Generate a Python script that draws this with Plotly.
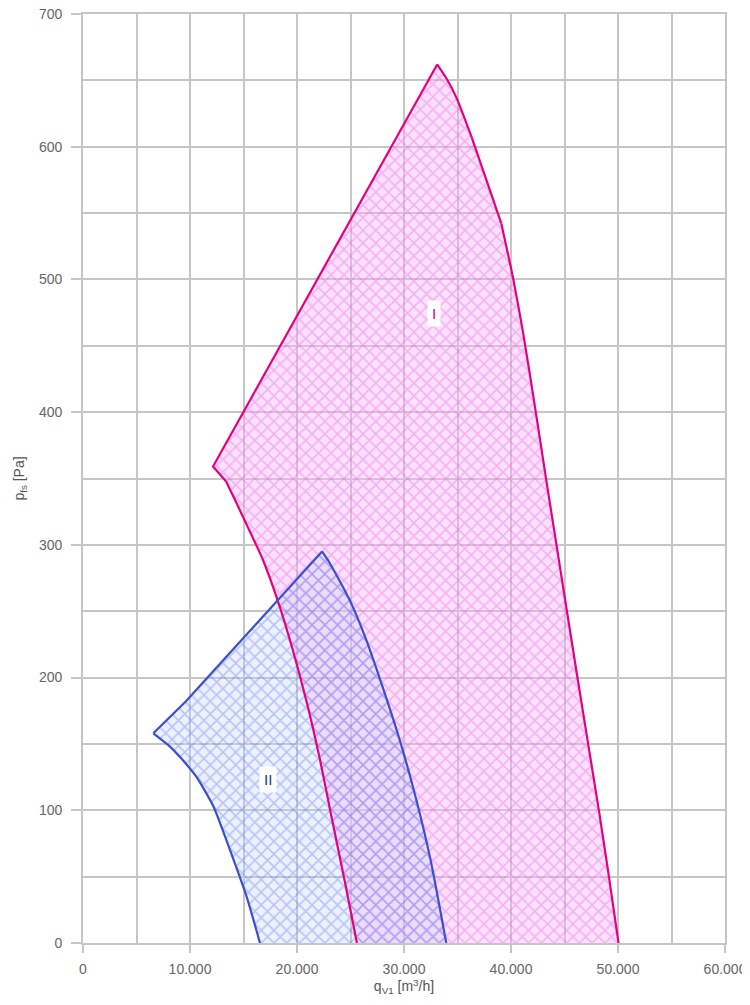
import plotly.graph_objects as go

# Region I (magenta) outline, q_V1 [m3/h] and p_fs [Pa]
q_I = [33100, 34000, 34900, 36330, 39100, 40220, 41150, 42240, 43350, 44250,
       45050, 46250, 47250, 48250, 49150, 50050, 25600, 24500, 23150, 22150,
       20950, 19600, 18200, 16800, 15250, 14200, 13360, 12150, 33100]
p_I = [662, 651, 637, 607, 542, 500, 459, 404, 346, 300,
       259, 198, 148, 98, 50, 0, 0, 45, 98, 138,
       180, 221, 258, 289, 316, 334, 348, 359, 662]

# Region II (blue) outline
q_II = [22340, 23080, 24950, 26350, 28000, 29600, 31150, 32500, 33950, 16540,
        15290, 13740, 12180, 10620, 9300, 8130, 6570, 9300, 9600, 22340]
p_II = [295, 286, 258, 231, 193, 153, 108, 62, 0, 0,
        35, 70, 103, 125, 138, 148, 158, 180, 182, 295]

x_tickvals = [0, 10000, 20000, 30000, 40000, 50000, 60000]
x_ticktext = ["0", "10.000", "20.000", "30.000", "40.000", "50.000", "60.000"]
y_tickvals = [0, 100, 200, 300, 400, 500, 600, 700]

label_I = ("I", 32800, 474)
label_II = ("II", 17300, 123)

RED = "#e5007d"
BLUE = "#3a4fd2"

fig = go.Figure()

fig.add_trace(go.Scatter(
    x=q_I, y=p_I, mode="lines", fill="toself",
    line=dict(width=0, color="rgba(0,0,0,0)"),
    fillcolor="rgba(250,170,245,0.35)",
    fillpattern=dict(shape="x", fgcolor="rgba(225,85,225,0.68)",
                     bgcolor="rgba(250,180,248,0.4)", size=9, solidity=0.32),
    hoverinfo="skip", showlegend=False))

fig.add_trace(go.Scatter(
    x=q_II, y=p_II, mode="lines", fill="toself",
    line=dict(width=0, color="rgba(0,0,0,0)"),
    fillcolor="rgba(170,195,255,0.3)",
    fillpattern=dict(shape="x", fgcolor="rgba(70,95,225,0.62)",
                     bgcolor="rgba(190,210,255,0.3)", size=9, solidity=0.32),
    hoverinfo="skip", showlegend=False))


def outline(xs, ys, color, shape):
    fig.add_trace(go.Scatter(x=xs, y=ys, mode="lines",
                             line=dict(color=color, width=2.2, shape=shape, smoothing=0.6),
                             hoverinfo="skip", showlegend=False))


# Region I outline (no edge along p = 0)
outline(q_I[0:4], p_I[0:4], RED, "spline")
outline(q_I[3:5], p_I[3:5], RED, "linear")
outline(q_I[4:16], p_I[4:16], RED, "spline")
outline(q_I[16:27], p_I[16:27], RED, "spline")
outline(q_I[26:29], p_I[26:29], RED, "linear")

# Region II outline
outline(q_II[0:9], p_II[0:9], BLUE, "spline")
outline(q_II[9:17], p_II[9:17], BLUE, "spline")
outline(q_II[16:20], p_II[16:20], BLUE, "linear")

for (txt, xx, yy), col in [(label_I, RED), (label_II, "#1a3a8c")]:
    fig.add_annotation(x=xx, y=yy, text=txt, showarrow=False,
                       bgcolor="white", borderpad=4,
                       font=dict(family="Liberation Sans, Arial", size=15, color=col))

grid = "#c6c6c6"
fig.update_layout(
    width=750, height=1005,
    margin=dict(l=75, r=33, t=6, b=70),
    paper_bgcolor="white", plot_bgcolor="white",
    font=dict(family="Liberation Sans, Arial", size=14, color="#666"),
    xaxis=dict(range=[0, 60000], tickvals=x_tickvals, ticktext=x_ticktext,
               automargin=False, ticklabeloverflow="allow",
               showgrid=True, gridcolor=grid, gridwidth=1.6,
               minor=dict(dtick=5000, tick0=0, showgrid=True, gridcolor=grid, gridwidth=1.6),
               ticks="outside", ticklen=8, tickcolor=grid, tickwidth=1.6,
               ticklabelstandoff=4,
               showline=True, linecolor=grid, linewidth=1.6, mirror=True,
               zeroline=False, tickfont=dict(size=14, color="#666"),
               title=dict(text="q<sub>V1</sub> [m<sup>3</sup>/h]", standoff=6,
                          font=dict(size=14, color="#555"))),
    yaxis=dict(range=[0, 700], tickvals=y_tickvals,
               automargin=False, ticklabeloverflow="allow",
               showgrid=True, gridcolor=grid, gridwidth=1.6,
               minor=dict(dtick=50, tick0=0, showgrid=True, gridcolor=grid, gridwidth=1.6),
               ticks="outside", ticklen=10, tickcolor=grid, tickwidth=1.6,
               ticklabelstandoff=6,
               showline=True, linecolor=grid, linewidth=1.6, mirror=True,
               zeroline=False, tickfont=dict(size=14, color="#666"),
               title=dict(text="p<sub>fs</sub> [Pa]", standoff=11,
                          font=dict(size=14, color="#555"))),
)

fig.write_html("out.html")
